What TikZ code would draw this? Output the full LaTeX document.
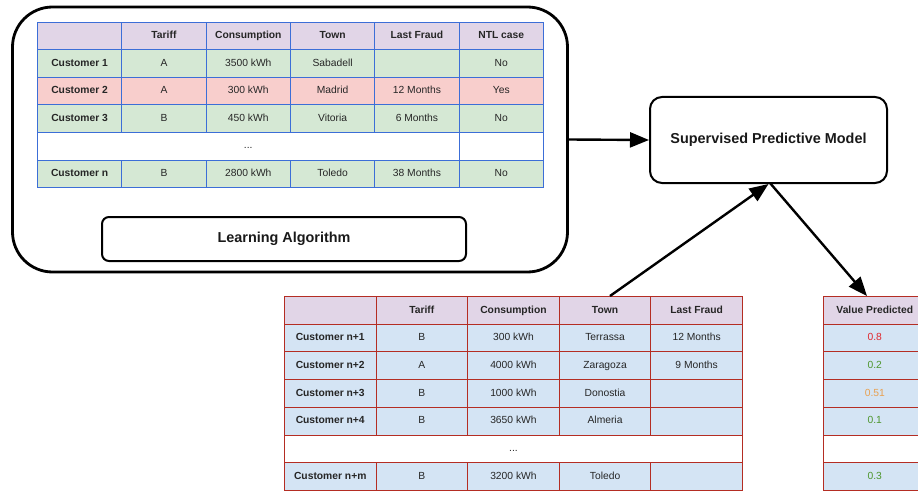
\documentclass[tikz,border=0pt]{standalone}
\usepackage{fontspec}
\setmainfont{Liberation Sans}
\usetikzlibrary{arrows.meta}
\definecolor{hdr}{HTML}{E1D5E7}
\definecolor{gfill}{HTML}{D5E8D4}
\definecolor{rfill}{HTML}{F8CECC}
\definecolor{bfill}{HTML}{D4E4F4}
\definecolor{tblue}{RGB}{60,110,215}
\definecolor{tred}{RGB}{180,45,35}
\definecolor{vred}{RGB}{224,40,46}
\definecolor{vgreen}{RGB}{78,150,46}
\definecolor{vorange}{RGB}{232,160,80}
\newcommand{\cellfont}{\fontsize{10.3}{12}\selectfont}
\newcommand{\cellbf}{\fontsize{10.3}{12}\selectfont\bfseries}
\newcommand{\titlefont}{\fontsize{14.4}{17}\selectfont\bfseries}
\tikzset{
  tcell/.style={draw=tblue, line width=0.9pt, minimum width=84.33pt, minimum height=27.5pt, inner sep=0pt, anchor=north west, font=\cellfont, text=black!85, text height=7.6pt, text depth=2pt},
  bcell/.style={draw=tred, line width=0.9pt, minimum width=91.6pt, minimum height=27.7pt, inner sep=0pt, anchor=north west, font=\cellfont, text=black!85, text height=7.6pt, text depth=2pt},
  vcell/.style={bcell, minimum width=103.3pt},
  roundbox/.style={draw=black, line width=2pt, inner sep=0pt, font=\titlefont, text=black!90},
  arr/.style={draw=black, line width=2.4pt, -{Triangle[length=19pt,width=15pt]}}
}
\newcommand{\toprow}[4]{%
  \node[tcell, fill=#2, font=\cellbf] (top-#1-0) at (37,{22+27.5*#1}) {#3};
  \foreach \txt [count=\c] in {#4} {
    \node[tcell, fill=#2] (top-#1-\c) at ({37+84.33*\c},{22+27.5*#1}) {\txt};
  }%
}
\newcommand{\botrow}[4]{%
  \node[bcell, fill=#2, font=\cellbf] (bot-#1-0) at (284,{296+27.7*#1}) {#3};
  \foreach \txt [count=\c] in {#4} {
    \node[bcell, fill=#2] (bot-#1-\c) at ({284+91.6*\c},{296+27.7*#1}) {\txt};
  }%
}
\begin{document}
\begin{tikzpicture}[x=1pt,y=-1pt]
\clip (0,0) rectangle (918,492);
\useasboundingbox (0,0) rectangle (918,492);
% training frame
\node[roundbox, line width=2.8pt, rounded corners=40pt, minimum width=555pt, minimum height=265pt] (trainbox) at (290,139.5) {};
% top table
\node[tcell, fill=hdr] (top-0-0) at (37,22) {};
\foreach \txt [count=\c] in {Tariff,Consumption,Town,Last Fraud,NTL case} {
  \node[tcell, fill=hdr, font=\cellbf] (top-0-\c) at ({37+84.33*\c},22) {\txt};
}
\toprow{1}{gfill}{Customer 1}{A,3500 kWh,Sabadell,{},No}
\toprow{2}{rfill}{Customer 2}{A,300 kWh,Madrid,12 Months,Yes}
\toprow{3}{gfill}{Customer 3}{B,450 kWh,Vitoria,6 Months,No}
\node[tcell, fill=white, minimum width=421.65pt] (top-4-0) at (37,132) {...};
\node[tcell, fill=white] (top-4-5) at (458.65,132) {};
\toprow{5}{gfill}{Customer n}{B,2800 kWh,Toledo,38 Months,No}
% learning algorithm
\node[roundbox, rounded corners=7pt, minimum width=364pt, minimum height=44pt] (algo) at (284,239) {Learning Algorithm};
% model
\node[roundbox, rounded corners=12pt, minimum width=237pt, minimum height=86pt] (model) at (768.5,140) {Supervised Predictive Model};
% bottom table
\node[bcell, fill=hdr] (bot-0-0) at (284,296) {};
\foreach \txt [count=\c] in {Tariff,Consumption,Town,Last Fraud} {
  \node[bcell, fill=hdr, font=\cellbf] (bot-0-\c) at ({284+91.6*\c},296) {\txt};
}
\botrow{1}{bfill}{Customer n+1}{B,300 kWh,Terrassa,12 Months}
\botrow{2}{bfill}{Customer n+2}{A,4000 kWh,Zaragoza,9 Months}
\botrow{3}{bfill}{Customer n+3}{B,1000 kWh,Donostia,{}}
\botrow{4}{bfill}{Customer n+4}{B,3650 kWh,Almeria,{}}
\node[bcell, fill=white, minimum width=458pt] (bot-5-0) at (284,434.5) {...};
\botrow{6}{bfill}{Customer n+m}{B,3200 kWh,Toledo,{}}
% value predicted
\node[vcell, fill=hdr, font=\cellbf] (val-0) at (822.7,296) {Value Predicted};
\node[vcell, fill=bfill, text=vred] (val-1) at (822.7,323.7) {0.8};
\node[vcell, fill=bfill, text=vgreen] (val-2) at (822.7,351.4) {0.2};
\node[vcell, fill=bfill, text=vorange] (val-3) at (822.7,379.1) {0.51};
\node[vcell, fill=bfill, text=vgreen] (val-4) at (822.7,406.8) {0.1};
\node[vcell, fill=white] (val-5) at (822.7,434.5) {};
\node[vcell, fill=bfill, text=vgreen] (val-6) at (822.7,462.2) {0.3};
% connectors
\coordinate (newin) at (610,296);
\coordinate (modout) at (770,183);
\coordinate (valin) at (867,296);
\draw[arr] (trainbox.east) -- (model.west);
\draw[arr] (newin) -- (model.south);
\draw[arr] (modout) -- (valin);
\end{tikzpicture}
\end{document}
